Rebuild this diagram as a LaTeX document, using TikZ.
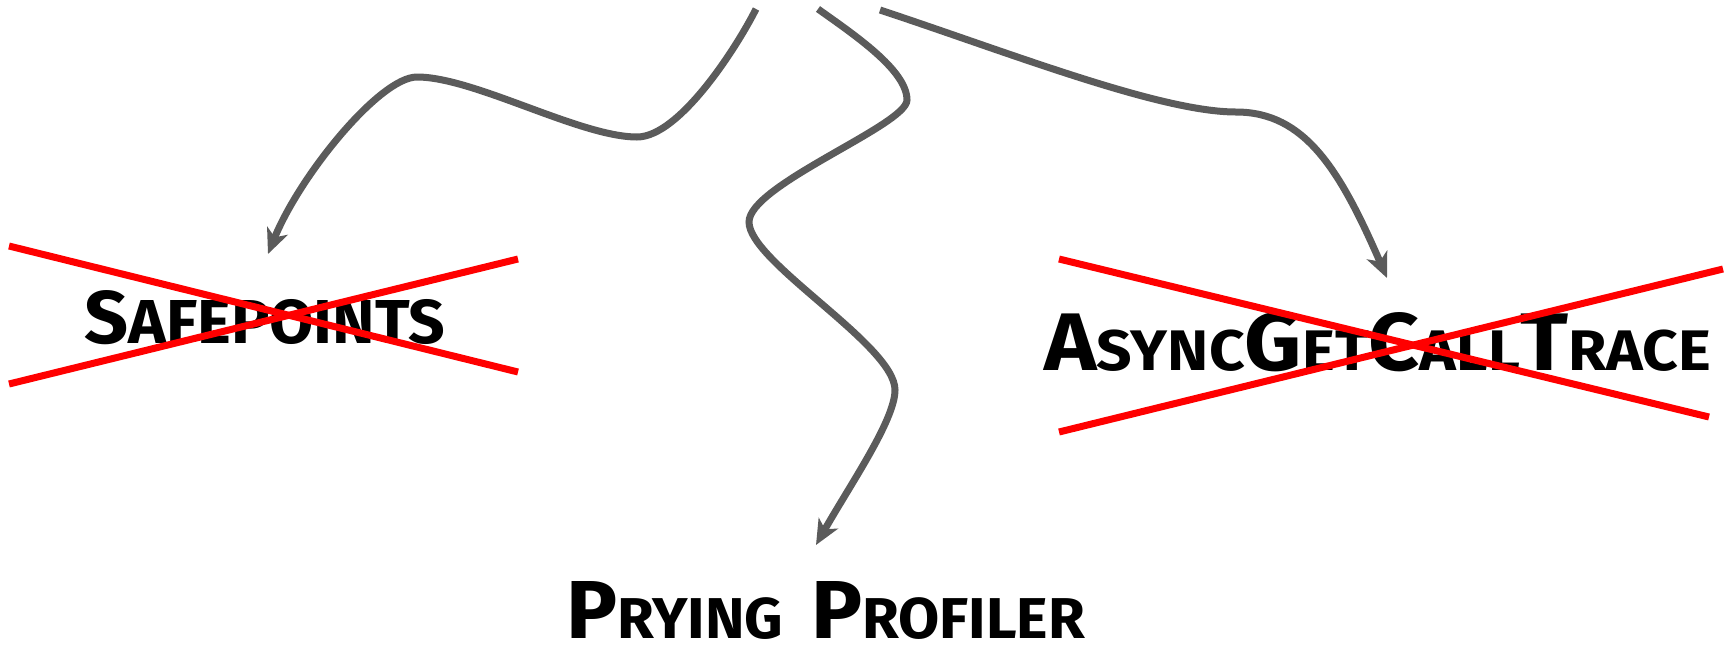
\documentclass[tikz,border=0pt]{standalone}
\usepackage{fontspec}
\usepackage{graphicx}
\setmainfont{Fira Sans}
\usetikzlibrary{arrows.meta}
\definecolor{arrgray}{HTML}{5B5B5B}
\definecolor{xred}{HTML}{FF0000}
\newcommand{\capA}[1]{{\fontsize{80}{80}\selectfont #1}}
\newcommand{\smlA}[1]{{\fontsize{56}{56}\selectfont #1}}
\begin{document}
\begin{tikzpicture}[x=1pt,y=-1pt,
  arr/.style={draw=arrgray,line width=7pt,-{Stealth[length=25pt,width=22pt,inset=7pt]}},
  cross/.style={draw=xred,line width=7pt},
  lbl/.style={inner sep=0pt,anchor=base west,text=black,font=\bfseries}]
\useasboundingbox (0,0) rectangle (1729,649);
% labels
\node[lbl] (sp) at (84,343) {\resizebox{361pt}{53pt}{{\fontsize{77}{77}\selectfont S}{\fontsize{64}{64}\selectfont AFEPOINTS}}};
\node[lbl] (agct) at (1044,370) {\resizebox{667pt}{58pt}{\capA{A}\smlA{SYNC}\capA{G}\smlA{ET}\capA{C}\smlA{ALL}\capA{T}\smlA{RACE}}};
\node[lbl] (pp) at (566,638) {\resizebox{519pt}{57pt}{\capA{P}\smlA{RYING}\hspace{26pt}\capA{P}\smlA{ROFILER}}};
% crosses
\draw[cross] (9,246) -- (518,372);
\draw[cross] (9,384) -- (518,259);
\draw[cross] (1059,259) -- (1709,417);
\draw[cross] (1059,432) -- (1723,269);
% free ends
\coordinate (s1) at (756,9);
\coordinate (s2) at (818,9);
\coordinate (s3) at (880,10);
\coordinate (t1) at (268,254);
\coordinate (t2) at (816,545);
\coordinate (t3) at (1387,278);
% connectors
\draw[arr] (s1) .. controls (738,45) and (680,137) .. (637,137)
  .. controls (580,137) and (474,77) .. (417,77)
  .. controls (380,77) and (300,175) .. (t1);
\draw[arr] (s2) .. controls (853,34) and (907,70) .. (907,100)
  .. controls (907,125) and (749,185) .. (749,222)
  .. controls (749,262) and (895,345) .. (895,390)
  .. controls (895,420) and (850,485) .. (t2);
\draw[arr] (s3) .. controls (1010,53) and (1160,112) .. (1236,112)
  .. controls (1305,112) and (1340,170) .. (t3);
\end{tikzpicture}
\end{document}
